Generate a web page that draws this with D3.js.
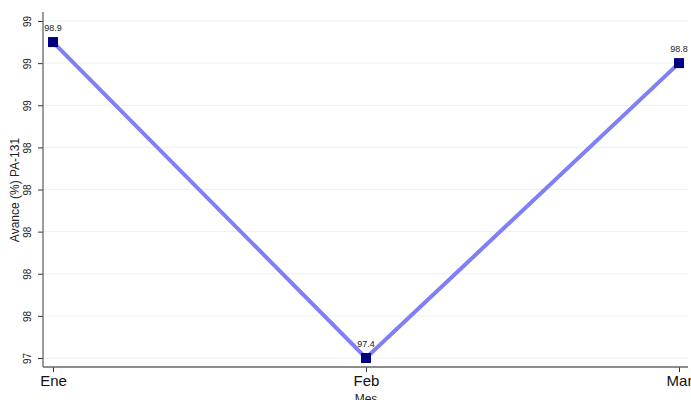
<!DOCTYPE html>
<html>
<head>
<meta charset="utf-8">
<script src="https://cdn.jsdelivr.net/npm/d3@7"></script>
<style>
  body { margin: 0; background: #fff; }
  text { font-family: "Liberation Sans", Arial, sans-serif; }
</style>
</head>
<body>
<svg id="chart" width="691" height="400"></svg>
<script>
// data
var months = ['Ene', 'Feb', 'Mar'];
var avance = [98.9, 97.4, 98.8];
var yTicks = [97.4, 97.6, 97.8, 98.0, 98.2, 98.4, 98.6, 98.8, 99.0];

var width = 691,
  height = 400,
  margin = { top: 21, right: 12, bottom: 42, left: 43 };

var svg = d3.select('#chart');

var x = d3.scalePoint()
  .domain(months)
  .range([53, 679]);

var y = d3.scaleLinear()
  .domain([97.4, 99])
  .range([358, 21]);

var axisY = height - margin.bottom + 9; // 367

// grid
svg.append('g')
  .selectAll('line')
  .data(yTicks)
  .enter().append('line')
  .attr('x1', margin.left)
  .attr('x2', 688)
  .attr('y1', function(d) { return y(d); })
  .attr('y2', function(d) { return y(d); })
  .attr('stroke', '#eaf2f3')
  .attr('stroke-width', 1);

// y axis
var yAxis = d3.axisLeft(y)
  .tickValues(yTicks)
  .tickSize(5)
  .tickFormat(d3.format('.0f'));

var gy = svg.append('g')
  .attr('transform', 'translate(' + margin.left + ',0)')
  .call(yAxis);
gy.select('.domain').remove();
gy.selectAll('.tick line').attr('stroke', '#333');
gy.selectAll('.tick text')
  .attr('transform', 'rotate(-90)')
  .attr('x', 0)
  .attr('y', -15)
  .attr('dy', '0.32em')
  .attr('text-anchor', 'middle')
  .attr('font-size', 10)
  .attr('fill', '#222');

svg.append('line')
  .attr('x1', margin.left).attr('x2', margin.left)
  .attr('y1', 12).attr('y2', axisY)
  .attr('stroke', '#666').attr('stroke-width', 1.3);

// x axis
var xAxis = d3.axisBottom(x).tickSize(5).tickSizeOuter(0);
var gx = svg.append('g')
  .attr('transform', 'translate(0,' + axisY + ')')
  .call(xAxis);
gx.select('.domain').remove();
gx.selectAll('.tick line').attr('stroke', '#333');
gx.selectAll('.tick text')
  .attr('y', 8)
  .attr('font-size', 15)
  .attr('fill', '#111');

svg.append('line')
  .attr('x1', margin.left).attr('x2', 688)
  .attr('y1', axisY).attr('y2', axisY)
  .attr('stroke', '#666').attr('stroke-width', 1.3);

// titles
svg.append('text')
  .attr('transform', 'translate(19,' + 190 + ') rotate(-90)')
  .attr('text-anchor', 'middle')
  .attr('font-size', 12)
  .attr('fill', '#222')
  .text('Avance (%) PA-131');

svg.append('text')
  .attr('x', 366)
  .attr('y', 403)
  .attr('text-anchor', 'middle')
  .attr('font-size', 12)
  .attr('fill', '#222')
  .text('Mes');

// line
var line = d3.line()
  .x(function(d, i) { return x(months[i]); })
  .y(function(d) { return y(d); });

svg.append('path')
  .datum(avance)
  .attr('d', line)
  .attr('fill', 'none')
  .attr('stroke', '#7f7ff7')
  .attr('stroke-width', 4);

// markers
svg.append('g')
  .selectAll('rect')
  .data(avance)
  .enter().append('rect')
  .attr('x', function(d, i) { return x(months[i]) - 5; })
  .attr('y', function(d) { return y(d) - 5; })
  .attr('width', 10)
  .attr('height', 10)
  .attr('fill', '#000080');

// value labels
svg.append('g')
  .selectAll('text')
  .data(avance)
  .enter().append('text')
  .attr('x', function(d, i) { return x(months[i]); })
  .attr('y', function(d) { return y(d) - 11; })
  .attr('text-anchor', 'middle')
  .attr('font-size', 9)
  .attr('fill', '#222')
  .text(function(d) { return d3.format('.1f')(d); });
</script>
</body>
</html>
